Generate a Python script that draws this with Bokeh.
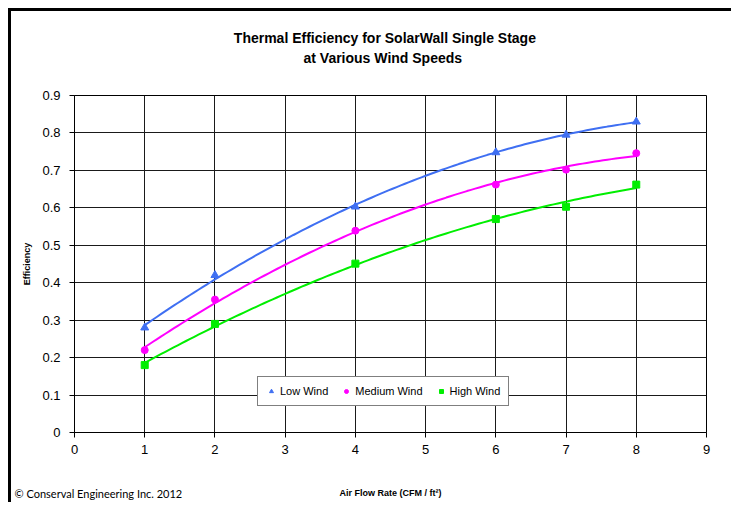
import numpy as np
from bokeh.plotting import figure
from bokeh.models import Label, Legend, LegendItem, FixedTicker, Range1d
from bokeh.embed import file_html
from bokeh.resources import INLINE

# ---- data ----
air_flow = [1, 2, 4, 6, 7, 8]
low_wind = [0.28, 0.42, 0.603, 0.748, 0.795, 0.83]
medium_wind = [0.22, 0.355, 0.539, 0.662, 0.702, 0.746]
high_wind = [0.18, 0.29, 0.451, 0.57, 0.603, 0.662]
series_names = ["Low Wind", "Medium Wind", "High Wind"]
x_ticks = [0, 1, 2, 3, 4, 5, 6, 7, 8, 9]
y_ticks = [0, 0.1, 0.2, 0.3, 0.4, 0.5, 0.6, 0.7, 0.8, 0.9]

title_line1 = "Thermal Efficiency for SolarWall Single Stage"
title_line2 = "at Various Wind Speeds"
x_label = "Air Flow Rate (CFM / ft\u00b2)"
y_label = "Efficiency"
copyright_text = "\u00a9 Conserval Engineering Inc. 2012"

FONT = "Liberation Sans"

p = figure(width=723, height=494, output_backend="svg", toolbar_location=None,
           tools="", x_range=Range1d(0, 9), y_range=Range1d(0, 0.9),
           min_border_left=63, min_border_right=28, min_border_top=84,
           min_border_bottom=73, background_fill_color="white",
           border_fill_color="white")
p.toolbar.logo = None
# outer chart border: thick black edge on the left and top only
p.styles = {"margin-left": "11px", "margin-top": "11px",
            "box-shadow": "-3px -3px 0px 0px black"}
p.title.visible = False

# axes
for ax in (p.xaxis[0], p.yaxis[0]):
    ax.axis_line_color = "black"
    ax.major_tick_line_color = "black"
    ax.major_tick_out = 5
    ax.major_tick_in = 0
    ax.minor_tick_line_color = None
    ax.major_label_text_font = FONT
    ax.major_label_text_font_size = "13px"
    ax.major_label_text_color = "black"
    ax.axis_label_text_font = FONT
    ax.axis_label_text_font_size = "9px"
    ax.axis_label_text_font_style = "bold"
    ax.axis_label_text_color = "black"

p.xaxis.ticker = FixedTicker(ticks=x_ticks)
p.yaxis.ticker = FixedTicker(ticks=y_ticks)
p.yaxis.major_label_overrides = {t: ("0" if t == 0 else f"{t:.1f}") for t in y_ticks}
p.xaxis.major_label_standoff = 7
p.yaxis.major_label_standoff = 9
p.xaxis.axis_label = x_label
p.xaxis.axis_label_standoff = 31
p.yaxis.axis_label = y_label
p.yaxis.axis_label_standoff = 7

p.xgrid.ticker = FixedTicker(ticks=x_ticks)
p.ygrid.ticker = FixedTicker(ticks=y_ticks)
for g in (p.xgrid[0], p.ygrid[0]):
    g.grid_line_color = "#1a1a1a"
    g.grid_line_width = 1
p.outline_line_color = "black"
p.outline_line_width = 1

# series with quadratic trendlines (as in the original spreadsheet chart)
colors = ["#3f6ff2", "#ff00ff", "#00ee00"]
markers = ["triangle", "circle", "square"]
sizes = [8, 7, 7]
items = []
xs_fit = np.linspace(min(air_flow), max(air_flow), 120)
for name, vals, col, mk, sz in zip(series_names, [low_wind, medium_wind, high_wind],
                                   colors, markers, sizes):
    coef = np.polyfit(air_flow, vals, 2)
    p.line(xs_fit, np.polyval(coef, xs_fit), line_color=col, line_width=2)
    r = p.scatter(air_flow, vals, marker=mk, size=sz, fill_color=col, line_color=col)
    items.append(LegendItem(label=name, renderers=[r]))

legend = Legend(items=items, orientation="horizontal", location=(183, 26),
                label_text_font=FONT, label_text_font_size="11px",
                label_text_color="black", glyph_width=10, glyph_height=10,
                label_height=10, label_standoff=4, spacing=13, padding=8,
                margin=0, border_line_color="black", border_line_width=1,
                background_fill_color="white", background_fill_alpha=1)
p.add_layout(legend, "center")

# chart title (two centred lines) and copyright note, placed in a side panel
# so that they are not clipped to the plotting frame
p.add_layout(Label(x=4.42, y=1.054, text=title_line1, text_font=FONT,
                   text_font_size="14px", text_font_style="bold",
                   text_color="black", text_align="center",
                   text_baseline="middle"), "above")
p.add_layout(Label(x=4.39, y=1.001, text=title_line2, text_font=FONT,
                   text_font_size="14px", text_font_style="bold",
                   text_color="black", text_align="center",
                   text_baseline="middle"), "above")
p.add_layout(Label(x=-0.854, y=-0.163, text=copyright_text, text_font="Lato",
                   text_font_size="11px", text_color="black",
                   text_baseline="middle", text_align="left"), "above")

open("out.html", "w").write(file_html(p, INLINE))
